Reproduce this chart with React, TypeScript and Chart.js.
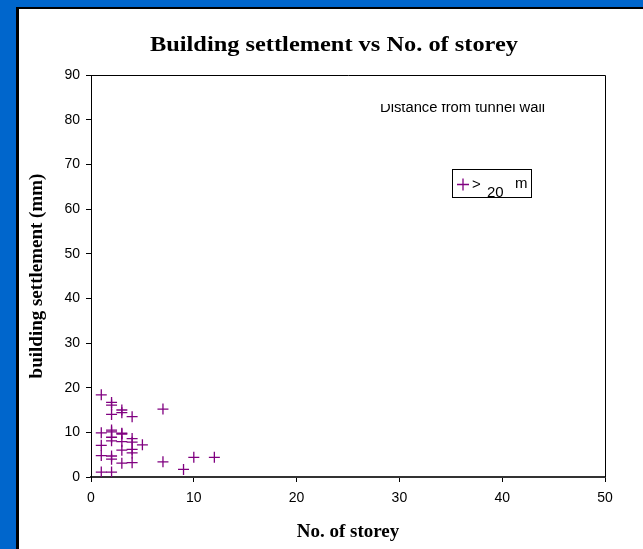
import React, { useEffect, useRef } from "react";
import { Chart, registerables } from "chart.js";
Chart.register(...registerables);

const chartTitle = "Building settlement vs No. of storey";
const xTitle = "No. of storey";
const yTitle = "building settlement (mm)";
const seriesLabel = "> 20 m";
const noteText = "Distance from tunnel wall";

const storeys = [1, 1, 1, 1, 1, 2, 2, 2, 2, 2, 2, 2, 2, 2, 2, 3, 3, 3, 3, 3, 3, 3, 4, 4, 4, 4, 4, 4, 5, 7, 7, 9, 10, 12];
const settlements = [18.4, 9.9, 7.1, 4.8, 1.1, 16.7, 16.1, 14.0, 10.5, 10.1, 8.9, 8.1, 4.7, 4.0, 1.1, 15.0, 14.4, 9.8, 9.6, 7.9, 6.0, 3.1, 13.5, 8.6, 7.8, 6.2, 5.4, 3.2, 7.2, 15.2, 3.4, 1.7, 4.4, 4.4];

const xMin = 0, xMax = 50, xStep = 10;
const yMin = 0, yMax = 90, yStep = 10;

const PURPLE = "#800080";

function stretchText(ctx: CanvasRenderingContext2D, text: string, x: number, y: number, font: string, targetWidth: number, align: CanvasTextAlign) {
  ctx.save();
  ctx.font = font;
  const w = ctx.measureText(text).width;
  const s = targetWidth / w;
  ctx.translate(x, y);
  ctx.scale(s, 1);
  ctx.textAlign = align;
  ctx.textBaseline = "alphabetic";
  ctx.fillStyle = "#000";
  ctx.fillText(text, 0, 0);
  ctx.restore();
}

const decorPlugin = {
  id: "decor",
  beforeDraw(chart: any) {
    const ctx: CanvasRenderingContext2D = chart.ctx;
    const w = chart.width, h = chart.height;
    ctx.save();
    ctx.fillStyle = "#0066CC";
    ctx.fillRect(0, 0, w, h);
    ctx.fillStyle = "#000";
    ctx.fillRect(16, 7, w - 16, h - 7);
    ctx.fillStyle = "#fff";
    ctx.fillRect(19, 9, w - 19, h - 9);
    ctx.restore();
  },
  afterDraw(chart: any) {
    const ctx: CanvasRenderingContext2D = chart.ctx;
    const a = chart.chartArea;
    ctx.save();
    ctx.strokeStyle = "#000";
    ctx.lineWidth = 1;
    ctx.beginPath();
    ctx.moveTo(a.left, Math.round(a.top) + 0.5);
    ctx.lineTo(Math.round(a.right) + 0.5, Math.round(a.top) + 0.5);
    ctx.lineTo(Math.round(a.right) + 0.5, a.bottom);
    ctx.stroke();

    stretchText(ctx, chartTitle, 334, 51, "bold 22px 'Liberation Serif'", 368, "center");

    ctx.save();
    ctx.beginPath();
    ctx.rect(0, 104, chart.width, chart.height);
    ctx.clip();
    stretchText(ctx, noteText, 380, 112, "14px 'Liberation Sans'", 165, "left");
    ctx.restore();

    ctx.fillStyle = "#fff";
    ctx.fillRect(452, 169, 79, 28);
    ctx.strokeStyle = "#000";
    ctx.lineWidth = 1;
    ctx.strokeRect(452.5, 169.5, 79, 28);
    ctx.strokeStyle = PURPLE;
    ctx.lineWidth = 1.3;
    ctx.beginPath();
    ctx.moveTo(457, 184.5);
    ctx.lineTo(469, 184.5);
    ctx.moveTo(463, 178.5);
    ctx.lineTo(463, 190.5);
    ctx.stroke();
    ctx.fillStyle = "#000";
    ctx.font = "15px 'Liberation Sans'";
    ctx.textBaseline = "alphabetic";
    ctx.textAlign = "left";
    const parts = seriesLabel.split(" ");
    ctx.fillText(parts[0], 472, 189);
    ctx.fillText(parts[1], 487, 197);
    ctx.fillText(parts[2], 515, 188);
    ctx.restore();
  },
};

export default function App() {
  const ref = useRef<HTMLCanvasElement>(null);
  useEffect(() => {
    if (!ref.current) return;
    const points = storeys.map((x, i) => ({ x, y: settlements[i] }));
    const chart = new Chart(ref.current, {
      type: "scatter",
      data: {
        datasets: [
          {
            label: seriesLabel,
            data: points,
            pointStyle: "cross",
            pointRadius: 5.5,
            pointBorderColor: PURPLE,
            pointBackgroundColor: PURPLE,
            pointBorderWidth: 1.3,
            borderColor: PURPLE,
            backgroundColor: PURPLE,
          },
        ],
      },
      options: {
        responsive: false,
        animation: false,
        devicePixelRatio: 1,
        layout: { padding: { left: 0, right: 38, top: 75, bottom: 0 } },
        plugins: {
          legend: { display: false },
          title: { display: false },
          tooltip: { enabled: false },
        },
        scales: {
          x: {
            type: "linear",
            min: xMin,
            max: xMax,
            ticks: {
              stepSize: xStep,
              color: "#000",
              padding: 8,
              font: { family: "'Liberation Sans'", size: 14 },
            },
            grid: { drawOnChartArea: false, drawTicks: true, tickLength: 5, color: "#000" },
            border: { display: true, color: "#333", width: 2 },
            title: {
              display: true,
              text: xTitle,
              color: "#000",
              font: { family: "'Liberation Serif'", size: 19, weight: "bold" },
              padding: { top: 0, bottom: 6 },
            },
            afterFit(scale: any) {
              scale.height = 72;
            },
          },
          y: {
            type: "linear",
            min: yMin,
            max: yMax,
            ticks: {
              stepSize: yStep,
              color: "#000",
              padding: 6,
              font: { family: "'Liberation Sans'", size: 14 },
            },
            grid: { drawOnChartArea: false, drawTicks: true, tickLength: 5, color: "#000" },
            border: { display: true, color: "#000", width: 1 },
            title: {
              display: true,
              text: yTitle,
              color: "#000",
              font: { family: "'Liberation Serif'", size: 19, weight: "bold" },
              padding: { top: 26, bottom: 0 },
            },
            afterFit(scale: any) {
              scale.width = 91;
            },
          },
        },
      },
      plugins: [decorPlugin],
    });
    return () => chart.destroy();
  }, []);
  return (
    <div style={{ position: "absolute", left: 0, top: 0, width: 643, height: 549 }}>
      <canvas ref={ref} width={643} height={549} style={{ display: "block", width: 643, height: 549 }} />
    </div>
  );
}
